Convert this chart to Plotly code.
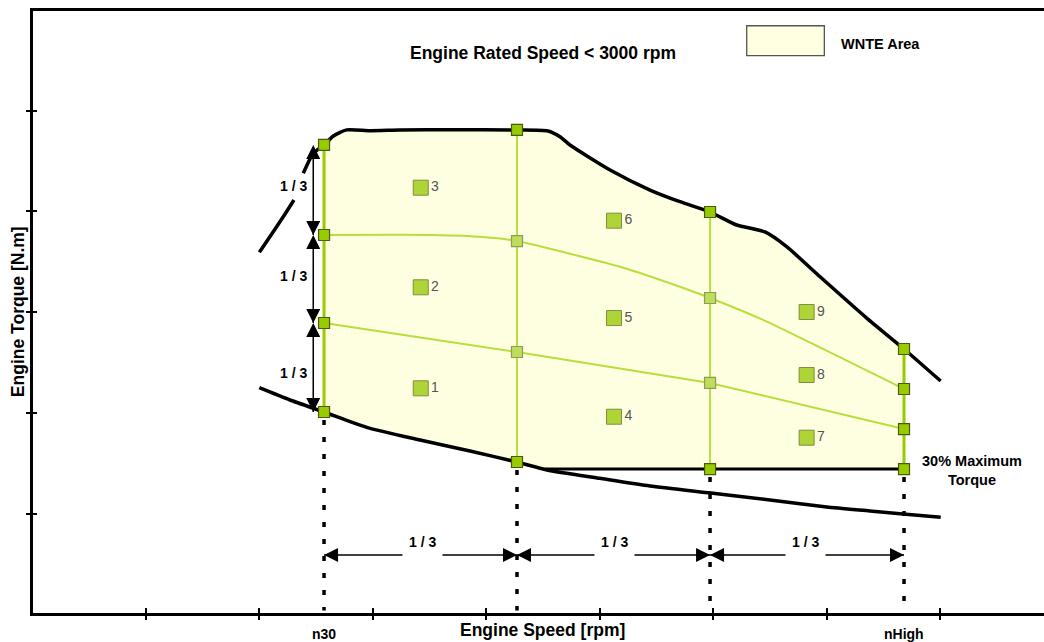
import plotly.graph_objects as go

# ---------------- data (chart units: x = speed, y = torque) ----------------
col_x = [2.573, 4.273, 5.974, 7.683]          # n30, 1/3, 2/3, nHigh
col_label = ["n30", "", "", "nHigh"]
col_top = [4.658, 4.807, 3.993, 2.634]        # max torque at column
col_hi = [3.765, 3.705, 3.140, 2.237]         # upper interior grid line
col_lo = [2.892, 2.604, 2.297, 1.840]         # lower interior grid line
col_bot = [2.009, 1.513, 1.443, 1.443]        # lower WNTE boundary

maxtq_x = [2.003, 2.214, 2.308, None, 2.390, 2.478, 2.573, 2.652, 2.773, 2.978,
           3.242, 3.683, 4.273, 4.546, 4.652, 4.740, 5.093, 5.445, 5.709, 5.974,
           6.209, 6.458, 6.649, 6.943, 7.354, 7.683, 8.006]
maxtq_y = [3.593, 3.946, 4.112, None, 4.377, 4.575, 4.658, 4.745, 4.808, 4.800,
           4.807, 4.810, 4.807, 4.797, 4.740, 4.658, 4.410, 4.211, 4.095, 3.993,
           3.864, 3.795, 3.649, 3.351, 2.941, 2.634, 2.316]

low_x = [2.003, 2.273, 2.573, 2.949, 3.419, 3.859, 4.273, 4.537, 5.004, 5.445,
         5.982, 6.502, 7.002, 7.383, 7.674, 8.006]
low_y = [2.250, 2.128, 2.009, 1.857, 1.731, 1.622, 1.513, 1.434, 1.351, 1.275,
         1.205, 1.136, 1.066, 1.027, 0.997, 0.964]

pct30_y = 1.443
pct30_x0 = 4.52

upper_mid_x = [2.573, 3.533, 3.974, 4.273, 5.181, 5.621, 5.974, 6.441, 7.683]
upper_mid_y = [3.765, 3.765, 3.745, 3.705, 3.450, 3.286, 3.140, 2.922, 2.237]

mode_id = ["1", "2", "3", "4", "5", "6", "7", "8", "9"]
mode_x = [3.425, 3.425, 3.425, 5.128, 5.128, 5.128, 6.825, 6.825, 6.825]
mode_y = [2.244, 3.246, 4.234, 1.962, 2.941, 3.907, 1.754, 2.376, 3.001]

vlabel_y = [2.396, 3.358, 4.251]
hlabel_x = [3.443, 5.128, 6.819]
third_text = "1 / 3"

x_ticks = [0, 1, 2, 3, 4, 5, 6, 7, 8]
y_ticks = [0, 1, 2, 3, 4, 5, 6]

# ---------------- styles ----------------
FONT = "Liberation Sans, Arial, sans-serif"
GREEN = "#99CC00"
LIGHTGREEN = "#B8DE3E"
arrow_x = 2.478
arrow_y = 0.590

fig = go.Figure()

# WNTE area polygon built from the curves
poly_x = [col_x[0]]
poly_y = [col_bot[0]]
for x, y in zip(maxtq_x, maxtq_y):
    if x is not None and col_x[0] <= x <= col_x[3]:
        poly_x.append(x); poly_y.append(y)
poly_x += [col_x[3], pct30_x0]
poly_y += [pct30_y, pct30_y]
for x, y in reversed(list(zip(low_x, low_y))):
    if col_x[0] <= x < pct30_x0:
        poly_x.append(x); poly_y.append(y)

fig.add_trace(go.Scatter(
    x=poly_x, y=poly_y, mode="lines", fill="toself",
    fillcolor="#FFFFE2", line=dict(width=0, color="rgba(0,0,0,0)"),
    fillpattern=dict(shape="+", size=4, solidity=0.12, fgcolor="#EEF3C4", bgcolor="#FFFFE3"),
    hoverinfo="skip", showlegend=False))

# dashed drop lines
for i, x in enumerate(col_x):
    fig.add_trace(go.Scatter(
        x=[x, x], y=[col_bot[i] - 0.08, 0.04], mode="lines",
        line=dict(color="black", width=3.5, dash="5px,12px"),
        hoverinfo="skip", showlegend=False))

# lower curve
fig.add_trace(go.Scatter(x=low_x, y=low_y, mode="lines",
                         line=dict(color="black", width=3.5, shape="spline", smoothing=0.6),
                         hoverinfo="skip", showlegend=False))
# 30% max torque line
fig.add_trace(go.Scatter(x=[pct30_x0, col_x[3]], y=[pct30_y, pct30_y], mode="lines",
                         line=dict(color="black", width=3),
                         hoverinfo="skip", showlegend=False))
# max torque curve
fig.add_trace(go.Scatter(x=maxtq_x, y=maxtq_y, mode="lines", connectgaps=False,
                         line=dict(color="black", width=3.5, shape="spline", smoothing=0.6),
                         hoverinfo="skip", showlegend=False))

# green grid: verticals
for i, x in enumerate(col_x):
    edge = i in (0, 3)
    fig.add_trace(go.Scatter(
        x=[x, x], y=[col_bot[i], col_top[i]], mode="lines",
        line=dict(color=GREEN if edge else LIGHTGREEN, width=3 if edge else 2),
        hoverinfo="skip", showlegend=False))
# interior grid lines
fig.add_trace(go.Scatter(x=upper_mid_x, y=upper_mid_y, mode="lines",
                         line=dict(color=LIGHTGREEN, width=2, shape="spline", smoothing=0.5),
                         hoverinfo="skip", showlegend=False))
fig.add_trace(go.Scatter(x=col_x, y=col_lo, mode="lines",
                         line=dict(color=LIGHTGREEN, width=2),
                         hoverinfo="skip", showlegend=False))

# vertical 1/3 arrows (n30 column)
levels = [col_bot[0], col_lo[0], col_hi[0], col_top[0]]
for a, b in zip(levels[:-1], levels[1:]):
    fig.add_trace(go.Scatter(
        x=[arrow_x, arrow_x], y=[a, b], mode="lines+markers",
        line=dict(color="black", width=1.5),
        marker=dict(symbol=["arrow-down", "arrow-up"], size=14, color="black", line=dict(width=0)),
        hoverinfo="skip", showlegend=False))
# horizontal 1/3 arrows
for a, b in zip(col_x[:-1], col_x[1:]):
    fig.add_trace(go.Scatter(
        x=[a, b], y=[arrow_y, arrow_y], mode="lines+markers",
        line=dict(color="black", width=1.5),
        marker=dict(symbol=["arrow-left", "arrow-right"], size=14, color="black", line=dict(width=0)),
        hoverinfo="skip", showlegend=False))

# grid markers
mx, my, mfill, mline = [], [], [], []
for i, x in enumerate(col_x):
    for j, y in enumerate([col_top[i], col_hi[i], col_lo[i], col_bot[i]]):
        inner = i in (1, 2) and j in (1, 2)
        mx.append(x); my.append(y)
        mfill.append("#BFDD5C" if inner else GREEN)
        mline.append("#8E9C55" if inner else "#4A5A10")
fig.add_trace(go.Scatter(x=mx, y=my, mode="markers",
                         marker=dict(symbol="square", size=11, color=mfill,
                                     line=dict(color=mline, width=1.2)),
                         hoverinfo="skip", showlegend=False))

# numbered modes
fig.add_trace(go.Scatter(x=mode_x, y=mode_y, mode="markers+text", text=mode_id,
                         textposition="middle right",
                         textfont=dict(family=FONT, size=14, color="#555555"),
                         marker=dict(symbol="square", size=15, color="#AED438",
                                     line=dict(color="#7F8F45", width=1)),
                         hoverinfo="skip", showlegend=False))

# invisible trace for the inside-tick overlay axes
fig.add_trace(go.Scatter(x=[None], y=[None], xaxis="x2", yaxis="y2",
                         hoverinfo="skip", showlegend=False))

ann = []
for y in vlabel_y:
    ann.append(dict(x=2.300, y=y, text=third_text, showarrow=False,
                    font=dict(family=FONT, size=14, color="black", weight="bold")))
for x in hlabel_x:
    ann.append(dict(x=x, y=0.722, text=third_text, showarrow=False, bgcolor="white",
                    borderpad=6, font=dict(family=FONT, size=14, color="black", weight="bold")))
ann.append(dict(x=4.502, y=5.570, text="Engine Rated Speed < 3000 rpm", showarrow=False,
                font=dict(family=FONT, size=17.5, color="black", weight="bold")))
ann.append(dict(x=7.110, y=5.660, text="WNTE Area", showarrow=False, xanchor="left",
                font=dict(family=FONT, size=14.5, color="black", weight="bold")))
ann.append(dict(x=8.282, y=1.429, text="30% Maximum<br>Torque", showarrow=False,
                font=dict(family=FONT, size=14.5, color="black", weight="bold")))
for x, t in zip(col_x, col_label):
    if t:
        ann.append(dict(x=x, yref="paper", y=-0.0357, yanchor="middle", text=t, showarrow=False,
                        font=dict(family=FONT, size=14, color="black", weight="bold")))
ann.append(dict(x=4.502, yref="paper", y=-0.0282, yanchor="middle", text="Engine Speed [rpm]",
                showarrow=False, font=dict(family=FONT, size=17.5, color="black", weight="bold")))
ann.append(dict(xref="paper", x=-0.0148, xanchor="center", y=3.0, text="Engine Torque [N.m]",
                showarrow=False, textangle=-90,
                font=dict(family=FONT, size=17.5, color="black", weight="bold")))

xr = [0.00881, 8.9163]
yr = [0.01488, 5.98710]
fig.update_layout(
    width=1044, height=642,
    margin=dict(l=33, r=0, t=11, b=29),
    paper_bgcolor="white", plot_bgcolor="white",
    showlegend=False,
    annotations=ann,
    shapes=[dict(type="rect", xref="x", yref="y", x0=6.297, x1=6.981, y0=5.544, y1=5.841,
                 fillcolor="#FFFFE2", line=dict(color="#555555", width=1.3), layer="below")],
    xaxis=dict(range=xr, autorange=False, showgrid=False, zeroline=False,
               showline=True, linecolor="black", linewidth=3, mirror=True,
               tickvals=x_ticks, showticklabels=False, ticks="outside",
               ticklen=4, tickwidth=1.5, tickcolor="black"),
    yaxis=dict(range=yr, autorange=False, showgrid=False, zeroline=False,
               showline=True, linecolor="black", linewidth=3,
               tickvals=y_ticks, showticklabels=False, ticks="outside",
               ticklen=4, tickwidth=1.5, tickcolor="black"),
    xaxis2=dict(range=xr, autorange=False, overlaying="x", anchor="y2", side="bottom",
                showgrid=False, zeroline=False, showline=False,
                tickvals=x_ticks, showticklabels=False, ticks="inside",
                ticklen=5, tickwidth=1.5, tickcolor="black"),
    yaxis2=dict(range=yr, autorange=False, overlaying="y", anchor="x2", side="left",
                showgrid=False, zeroline=False, showline=False,
                tickvals=y_ticks, showticklabels=False, ticks="inside",
                ticklen=4, tickwidth=1.5, tickcolor="black"),
)

fig.write_html("out.html", config={"displayModeBar": False},
               post_script="document.body.style.margin='0px';document.body.style.overflow='hidden';")
